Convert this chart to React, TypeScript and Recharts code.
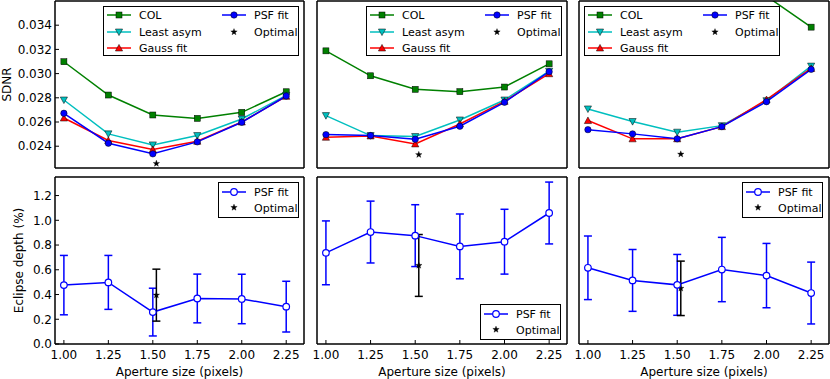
import React from 'react';
import { ComposedChart, Line, Scatter, XAxis, YAxis, ErrorBar, Legend } from 'recharts';

const apertures = [1.0, 1.25, 1.5, 1.75, 2.0, 2.25];
const xTicks = [1.0, 1.25, 1.5, 1.75, 2.0, 2.25];
const sdnrTicks = [0.024, 0.026, 0.028, 0.03, 0.032, 0.034];
const depthTicks = [0, 0.2, 0.4, 0.6, 0.8, 1.0, 1.2];

// one row per panel: left, middle, right
const colSdnr = [
  [0.03098, 0.02823, 0.02658, 0.0263, 0.0268, 0.0285],
  [0.03188, 0.02982, 0.0287, 0.02851, 0.02889, 0.03081],
  [0.0395, 0.0388, 0.0381, 0.0373, 0.0364, 0.03384],
];
const leastAsymSdnr = [
  [0.02782, 0.02502, 0.02411, 0.02488, 0.02625, 0.0282],
  [0.02653, 0.02488, 0.0248, 0.02617, 0.02782, 0.0302],
  [0.02708, 0.02604, 0.02516, 0.0257, 0.02776, 0.03062],
];
const gaussSdnr = [
  [0.02633, 0.02447, 0.02373, 0.02441, 0.026, 0.02812],
  [0.02474, 0.02485, 0.02419, 0.02584, 0.02771, 0.02999],
  [0.02612, 0.02461, 0.02461, 0.02562, 0.02785, 0.03043],
];
const psfSdnr = [
  [0.02672, 0.02425, 0.02337, 0.02436, 0.02598, 0.02815],
  [0.02496, 0.02488, 0.02458, 0.02565, 0.02763, 0.03016],
  [0.02537, 0.02502, 0.02461, 0.02562, 0.02768, 0.03035],
];
const optimalAperture = [1.52, 1.52, 1.52];
const optimalSdnr = [0.02257, 0.0233, 0.02334];

const psfDepth = [
  [0.476, 0.498, 0.258, 0.368, 0.364, 0.302],
  [0.737, 0.905, 0.876, 0.789, 0.827, 1.059],
  [0.616, 0.514, 0.478, 0.602, 0.553, 0.412],
];
const psfDepthErr = [
  [0.24, 0.218, 0.193, 0.197, 0.2, 0.205],
  [0.258, 0.25, 0.25, 0.262, 0.262, 0.25],
  [0.257, 0.25, 0.246, 0.26, 0.26, 0.25],
];
const optimalDepth = [0.395, 0.635, 0.45];
const optimalDepthErr = [0.21, 0.25, 0.22];

const FONT = 'DejaVu Sans, sans-serif';
const GREEN = '#008000';
const CYAN = '#00bfbf';
const RED = '#ff0000';
const BLUE = '#0000ff';

const colX = [55, 317, 579];
const colW = [249, 250, 250];
const rowY = [1, 177];
const rowH = [167, 167];

type Kind = 'square' | 'tridown' | 'triup' | 'circle' | 'open' | 'star';

function marker(kind: Kind, cx: number, cy: number, color: string, key?: string) {
  switch (kind) {
    case 'square':
      return <rect key={key} x={cx - 3} y={cy - 3} width={6} height={6} fill={color} stroke="#000" strokeWidth={0.5} />;
    case 'tridown':
      return <polygon key={key} points={`${cx - 3.6},${cy - 3} ${cx + 3.6},${cy - 3} ${cx},${cy + 3.6}`} fill={color} stroke="#000" strokeWidth={0.5} />;
    case 'triup':
      return <polygon key={key} points={`${cx - 3.6},${cy + 3} ${cx + 3.6},${cy + 3} ${cx},${cy - 3.6}`} fill={color} stroke="#000" strokeWidth={0.5} />;
    case 'circle':
      return <circle key={key} cx={cx} cy={cy} r={3.2} fill={color} stroke="#000" strokeWidth={0.5} />;
    case 'open':
      return <circle key={key} cx={cx} cy={cy} r={3.3} fill="#fff" stroke={color} strokeWidth={1.2} />;
    default: {
      const pts: string[] = [];
      for (let k = 0; k < 10; k++) {
        const a = (-90 + k * 36) * Math.PI / 180;
        const r = k % 2 === 0 ? 3.4 : 1.4;
        pts.push(`${cx + r * Math.cos(a)},${cy + r * Math.sin(a)}`);
      }
      return <polygon key={key} points={pts.join(' ')} fill={color} stroke={color} strokeWidth={0.3} />;
    }
  }
}

const toPoints = (ys: number[]) => apertures.map((x, i) => ({ x, y: ys[i] }));
const toErrPoints = (ys: number[], es: number[]) => apertures.map((x, i) => ({ x, y: ys[i], err: es[i] }));

interface LegendEntry { name: string; kind: Kind; color: string; c: number; r: number; line: boolean; }

const topEntries: LegendEntry[] = [
  { name: 'COL', kind: 'square', color: GREEN, c: 0, r: 0, line: true },
  { name: 'Least asym', kind: 'tridown', color: CYAN, c: 0, r: 1, line: true },
  { name: 'Gauss fit', kind: 'triup', color: RED, c: 0, r: 2, line: true },
  { name: 'PSF fit', kind: 'circle', color: BLUE, c: 1, r: 0, line: true },
  { name: 'Optimal', kind: 'star', color: '#000', c: 1, r: 1, line: false },
];
const bottomEntries: LegendEntry[] = [
  { name: 'PSF fit', kind: 'open', color: BLUE, c: 0, r: 0, line: true },
  { name: 'Optimal', kind: 'star', color: '#000', c: 0, r: 1, line: false },
];

function LegendBox({ entries, w, h, rows }: { entries: LegendEntry[]; w: number; h: number; rows: number[] }) {
  const colOff = [0, 115];
  return (
    <svg width={w} height={h} style={{ display: 'block' }}>
      <rect x={0.5} y={0.5} width={w - 1} height={h - 1} fill="#fff" stroke="#000" strokeWidth={1} />
      {entries.map((e, i) => {
        const x0 = colOff[e.c];
        const y = rows[e.r];
        return (
          <g key={i}>
            {e.line && <line x1={x0 + 4} x2={x0 + 28} y1={y} y2={y} stroke={e.color} strokeWidth={1.5} />}
            {marker(e.kind, x0 + 16, y, e.color)}
            <text x={x0 + 36} y={y + 4} fontSize={11} fontFamily={FONT} fill="#000">{e.name}</text>
          </g>
        );
      })}
    </svg>
  );
}

const topLegendPos = [{ left: 103, top: 7 }, { left: 59, top: 7 }, { left: 15, top: 7 }];
const bottomLegendPos = [{ left: 218, top: 7 }, { left: 173, top: 129 }, { left: 173, top: 7 }];

function Panel({ row, col }: { row: number; col: number }) {
  const L = col === 0 ? 55 : 10;
  const bottomH = row === 0 ? 6 : 35;
  const width = L + colW[col] + 1;
  const height = 2 + rowH[row] + bottomH;
  const left = colX[col] - L;
  const top = rowY[row] - 2;
  const axisLine = { stroke: '#000', strokeWidth: 1.5 };
  const tickLine = { stroke: '#000', strokeWidth: 1 };
  const tickStyle = { fill: '#000', fontSize: 12, fontFamily: FONT };
  const yDomain = row === 0 ? [0.0222, 0.036] : [0, 1.35];
  const yTicks = row === 0 ? sdnrTicks : depthTicks;
  const yFmt = (v: number) => (row === 0 ? v.toFixed(3) : v.toFixed(1));
  const yLabel = row === 0 ? 'SDNR' : 'Eclipse depth (%)';
  const yLabelX = row === 0 ? 11 : 22.5;
  const lp = row === 0 ? topLegendPos[col] : bottomLegendPos[col];
  const lw = row === 0 ? 196 : 81;
  const lh = row === 0 ? 50 : 36;

  return (
    <div style={{ position: 'absolute', left, top }}>
      <ComposedChart width={width} height={height} margin={{ top: 0, right: 0, bottom: 0, left: 0 }}>
        <XAxis
          dataKey="x"
          type="number"
          domain={[0.95, 2.35]}
          ticks={xTicks}
          interval={0}
          allowDataOverflow
          height={bottomH}
          axisLine={axisLine}
          tickLine={tickLine}
          tickSize={-4}
          tickMargin={10}
          tick={row === 1 ? tickStyle : false}
          tickFormatter={(v: number) => v.toFixed(2)}
          label={row === 1 ? {
            content: (p: any) => {
              const vb = p.viewBox;
              return (
                <text x={vb.x + vb.width / 2} y={vb.y + vb.height - 3.5} textAnchor="middle" fontSize={12} fontFamily={FONT} fill="#000">
                  Aperture size (pixels)
                </text>
              );
            },
          } : undefined}
        />
        <XAxis xAxisId="top" orientation="top" dataKey="x" type="number" domain={[0.95, 2.35]} ticks={xTicks} interval={0}
          allowDataOverflow height={2} axisLine={axisLine} tickLine={tickLine} tickSize={-4} tick={false} />
        <YAxis
          type="number"
          domain={yDomain}
          ticks={yTicks}
          interval={0}
          allowDataOverflow
          width={L}
          axisLine={axisLine}
          tickLine={tickLine}
          tickSize={-4}
          tickMargin={7}
          tick={col === 0 ? tickStyle : false}
          tickFormatter={yFmt}
          label={col === 0 ? {
            content: (p: any) => {
              const vb = p.viewBox;
              const cy = vb.y + vb.height / 2;
              return (
                <text x={yLabelX} y={cy} transform={`rotate(-90 ${yLabelX} ${cy})`} textAnchor="middle" fontSize={12} fontFamily={FONT} fill="#000">
                  {yLabel}
                </text>
              );
            },
          } : undefined}
        />
        <YAxis yAxisId="right" orientation="right" type="number" domain={yDomain} ticks={yTicks} interval={0}
          allowDataOverflow width={1} axisLine={axisLine} tickLine={tickLine} tickSize={-4} tick={false} />

        {row === 0 && (
          <>
            <Line data={toPoints(colSdnr[col])} dataKey="y" type="linear" stroke={GREEN} strokeWidth={1.5}
              dot={(p: any) => marker('square', p.cx, p.cy, GREEN, `c-${p.index}`)} activeDot={false} isAnimationActive={false} />
            <Line data={toPoints(leastAsymSdnr[col])} dataKey="y" type="linear" stroke={CYAN} strokeWidth={1.5}
              dot={(p: any) => marker('tridown', p.cx, p.cy, CYAN, `l-${p.index}`)} activeDot={false} isAnimationActive={false} />
            <Line data={toPoints(gaussSdnr[col])} dataKey="y" type="linear" stroke={RED} strokeWidth={1.5}
              dot={(p: any) => marker('triup', p.cx, p.cy, RED, `g-${p.index}`)} activeDot={false} isAnimationActive={false} />
            <Line data={toPoints(psfSdnr[col])} dataKey="y" type="linear" stroke={BLUE} strokeWidth={1.5}
              dot={(p: any) => marker('circle', p.cx, p.cy, BLUE, `p-${p.index}`)} activeDot={false} isAnimationActive={false} />
            <Scatter data={[{ x: optimalAperture[col], y: optimalSdnr[col] }]} dataKey="y"
              shape={(p: any) => marker('star', p.cx, p.cy, '#000')} isAnimationActive={false} />
          </>
        )}
        {row === 1 && (
          <>
            <Line data={toErrPoints(psfDepth[col], psfDepthErr[col])} dataKey="y" type="linear" stroke={BLUE} strokeWidth={1.5}
              dot={(p: any) => marker('open', p.cx, p.cy, BLUE, `o-${p.index}`)} activeDot={false} isAnimationActive={false}>
              <ErrorBar dataKey="err" direction="y" width={4} stroke={BLUE} strokeWidth={1.5} isAnimationActive={false} />
            </Line>
            <Scatter data={[{ x: optimalAperture[col], y: optimalDepth[col], err: optimalDepthErr[col] }]} dataKey="y"
              shape={(p: any) => marker('star', p.cx, p.cy, '#000')} isAnimationActive={false}>
              <ErrorBar dataKey="err" direction="y" width={4} stroke="#000" strokeWidth={1.5} isAnimationActive={false} />
            </Scatter>
          </>
        )}

        <Legend
          layout="vertical"
          align="center"
          verticalAlign="middle"
          wrapperStyle={{ left: lp.left, top: lp.top, width: lw, height: lh }}
          content={() => (
            <LegendBox entries={row === 0 ? topEntries : bottomEntries} w={lw} h={lh}
              rows={row === 0 ? [9, 26, 42] : [10, 25.5]} />
          )}
        />
      </ComposedChart>
    </div>
  );
}

export default function App() {
  return (
    <div style={{ position: 'absolute', left: 0, top: 0, width: 830, height: 379, overflow: 'hidden', background: '#fff', fontFamily: FONT }}>
      {[0, 1].map((r) => [0, 1, 2].map((c) => <Panel key={`${r}-${c}`} row={r} col={c} />))}
    </div>
  );
}
